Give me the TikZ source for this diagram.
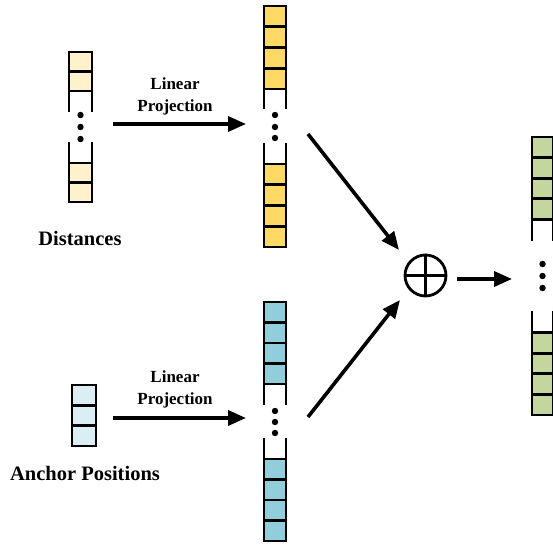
\documentclass[tikz,border=0pt]{standalone}
\usepackage{fontspec}
\setmainfont{Liberation Serif}
\usetikzlibrary{arrows.meta}
\definecolor{cream}{HTML}{FFF2CC}
\definecolor{gold}{HTML}{FFD966}
\definecolor{teal1}{HTML}{92CDDC}
\definecolor{teal2}{HTML}{DAEEF3}
\definecolor{green1}{HTML}{C3D69B}
\tikzset{
  cell/.style={draw=black, line width=2.8pt, line cap=rect},
  arr/.style={line width=3.6pt, -{Triangle[length=18pt,width=15pt]}},
  lbl/.style={font=\bfseries\fontsize{17}{22}\selectfont, align=center, inner sep=0pt},
  ttl/.style={font=\bfseries\fontsize{20.5}{24}\selectfont, inner sep=0pt},
  dotm/.style={fill=black},
  sumnode/.style={draw=black, circle, line width=2.8pt, minimum size=41pt, inner sep=0pt}
}
% #1 x, #2 w, #3 top, #4 n, #5 h, #6 open-end y, #7 lower start y, #8 bottom y, #9 colour
\newcommand\vstackdraw[9]{%
  \pgfmathsetmacro\vsya{#3+#4*#5}%
  \pgfmathsetmacro\vsyb{#8-#4*#5}%
  \fill[#9] (#1,#3) rectangle (#1+#2,\vsya);
  \foreach \i in {0,...,#4}{\draw[cell] (#1,#3+\i*#5) -- ++(#2,0);}
  \draw[cell] (#1,#3) -- (#1,#6);
  \draw[cell] (#1+#2,#3) -- (#1+#2,#6);
  \fill[#9] (#1,\vsyb) rectangle (#1+#2,#8);
  \foreach \i in {0,...,#4}{\draw[cell] (#1,\vsyb+\i*#5) -- ++(#2,0);}
  \draw[cell] (#1,#7) -- (#1,#8);
  \draw[cell] (#1+#2,#7) -- (#1+#2,#8);
}
\newcommand\threedots[4]{% x, y1, y2, y3
  \fill[dotm] (#1,#2) circle (3.2pt) (#1,#3) circle (3.2pt) (#1,#4) circle (3.2pt);
}
\begin{document}
\begin{tikzpicture}[x=1pt,y=-1pt]
\useasboundingbox (0,0) rectangle (553,545);

% Distances stack
\vstackdraw{69}{23}{52}{2}{19.5}{111}{143}{202}{cream}
\threedots{80.5}{115}{127}{139}
% Yellow stack
\vstackdraw{264}{22}{6}{4}{20.75}{108}{144}{247}{gold}
\threedots{275}{115}{127}{138}
% Teal stack
\vstackdraw{264}{22}{302}{4}{20.5}{404}{439}{541}{teal1}
\threedots{275}{411}{422}{433}
% Green stack
\vstackdraw{532}{21}{137}{4}{20.6}{240}{312}{415}{green1}
\threedots{542.5}{264}{276}{288}
% Anchor stack
\fill[teal2] (72,385) rectangle (96,446);
\foreach \i in {0,1,2,3}{\draw[cell] (72,385+\i*20.33) -- ++(24,0);}
\draw[cell] (72,385) -- (72,446);
\draw[cell] (96,385) -- (96,446);

% Labels
\node[ttl] (dist) at (80,238) {Distances};
\node[ttl] (anch) at (85,473) {Anchor Positions};
\node[lbl] (lp1) at (175,96) {Linear\\Projection};
\node[lbl] (lp2) at (175,389) {Linear\\Projection};

% Sum
\node[sumnode] (sum) at (425.5,275.5) {};
\draw[line width=2.4pt] (sum.north) -- (sum.south) (sum.west) -- (sum.east);

% Arrow endpoints
\coordinate (a1s) at (113,124);
\coordinate (a1e) at (246,124);
\coordinate (a2s) at (113,418);
\coordinate (a2e) at (246,418);
\coordinate (a3s) at (308,134);
\coordinate (a3e) at (399,250);
\coordinate (a4s) at (308,417);
\coordinate (a4e) at (400,300);
\coordinate (a5s) at (457,279);
\coordinate (a5e) at (512,279);

\draw[arr] (a1s) -- (a1e);
\draw[arr] (a2s) -- (a2e);
\draw[arr] (a3s) -- (a3e);
\draw[arr] (a4s) -- (a4e);
\draw[arr] (a5s) -- (a5e);
\end{tikzpicture}
\end{document}
